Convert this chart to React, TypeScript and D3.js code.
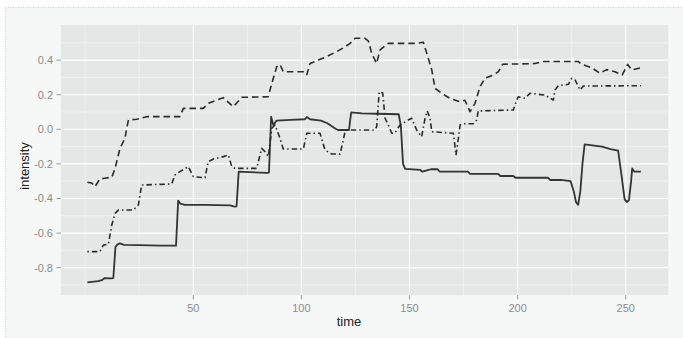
import React from "react";
import * as d3 from "d3";

// ---- data (time, intensity) ----
const solidTime = [1,3,6,8,9,12,13,14,15,16,18,25,35,42,43,44,46,55,67,69,70,71,76,84,85,86,87,88.5,95,101.5,102.5,104,109,112,116,117,122,123,128,135,145,146,147,148,155,156,158,160,163,164,177,178,191,192,198,199,214,215,220,224.5,226,227,228,229,230,231,239,243,246.5,248,249.5,250.5,251.5,252.5,253,254,257];
const solidValue = [-0.885,-0.882,-0.878,-0.87,-0.86,-0.862,-0.86,-0.68,-0.665,-0.66,-0.668,-0.67,-0.672,-0.673,-0.412,-0.43,-0.437,-0.437,-0.44,-0.447,-0.445,-0.245,-0.248,-0.252,-0.25,0.073,0.025,0.05,0.055,0.058,0.071,0.058,0.05,0.035,0.002,-0.004,-0.004,0.098,0.092,0.09,0.087,0.02,-0.2,-0.229,-0.235,-0.245,-0.238,-0.231,-0.231,-0.245,-0.245,-0.258,-0.258,-0.27,-0.27,-0.28,-0.28,-0.293,-0.293,-0.3,-0.36,-0.42,-0.437,-0.36,-0.2,-0.087,-0.1,-0.114,-0.124,-0.26,-0.405,-0.42,-0.41,-0.3,-0.226,-0.245,-0.245];

const dashedTime = [1,3,4.5,6.8,9,12.3,13.8,16.1,18.4,19.2,20,23.8,28.4,43.8,45.4,54.6,56.9,63.9,68.5,72.4,84.6,87,88.6,90.1,91.6,101.7,102.5,104,107.8,111.7,116.3,120.2,122.5,124.8,129.4,131,132.5,134.8,136.3,140.2,153.3,156.4,158,160.3,161.8,164.9,168.7,173.3,175.6,178,180.3,182.6,184.9,188.8,191.1,193,208,212,228,229.6,234.3,238.1,241.2,245,248.4,250.9,252.8,257];
const dashedValue = [-0.306,-0.31,-0.332,-0.287,-0.283,-0.277,-0.226,-0.11,-0.052,0.006,0.054,0.058,0.073,0.073,0.121,0.121,0.15,0.183,0.13,0.185,0.188,0.295,0.362,0.375,0.333,0.333,0.316,0.381,0.4,0.42,0.449,0.477,0.497,0.526,0.526,0.51,0.439,0.381,0.458,0.497,0.497,0.503,0.439,0.343,0.237,0.208,0.179,0.16,0.168,0.102,0.15,0.246,0.295,0.314,0.333,0.376,0.38,0.392,0.392,0.376,0.356,0.324,0.345,0.333,0.314,0.375,0.343,0.355];

const dotdashTime = [1,6.8,8.4,10.7,12.3,13.8,15.3,22.2,24.6,26.1,40,41.5,43.8,47.7,50,55.4,56.9,59.3,63.9,66.2,67.8,69.3,79.3,81.6,83.2,84.7,86.3,87.8,90.1,91.6,100.9,102.5,108.6,110.9,114,117.9,120.2,121,134,134.8,136,137.6,138.7,140.2,141.8,143.3,145.6,149.4,151,153.3,155.6,157.2,158.2,159.5,160.3,170.3,171.5,172.6,173.4,174.9,179.5,181.1,181.8,198,199.6,200.3,203.4,205.7,212.7,216.5,217.3,218.8,223.5,225,226.6,228.9,230.4,257];
const dotdashValue = [-0.707,-0.707,-0.669,-0.665,-0.553,-0.486,-0.467,-0.467,-0.437,-0.322,-0.316,-0.264,-0.245,-0.216,-0.274,-0.28,-0.187,-0.172,-0.158,-0.149,-0.216,-0.226,-0.226,-0.11,-0.13,-0.158,0.006,0.025,-0.052,-0.114,-0.114,-0.023,-0.023,-0.12,-0.143,-0.143,-0.014,-0.004,-0.004,0.015,0.217,0.21,0.064,0.025,-0.023,-0.02,0.025,0.054,0.064,-0.004,-0.043,0.064,0.106,0.064,-0.014,-0.023,-0.149,-0.052,0.025,0.032,0.032,0.054,0.106,0.112,0.169,0.188,0.179,0.208,0.198,0.169,0.227,0.252,0.26,0.295,0.285,0.227,0.25,0.252];

const xTicks = [50, 100, 150, 200, 250];
const xMinor = [0, 25, 75, 125, 175, 225];
const yTicks = [-0.8, -0.6, -0.4, -0.2, 0.0, 0.2, 0.4];
const yMinor = [-0.9, -0.7, -0.5, -0.3, -0.1, 0.1, 0.3, 0.5];

const W = 683, H = 338;
const panel = { left: 61, right: 668.3, top: 25, bottom: 295 };
const font = "'Liberation Sans', Arial, Helvetica, sans-serif";

export default function App() {
  const x = d3.scaleLinear().domain([-11.2, 269.7]).range([panel.left, panel.right]);
  const y = d3.scaleLinear().domain([-0.958, 0.603]).range([panel.bottom, panel.top]);
  const line = d3.line<[number, number]>().x(d => x(d[0])).y(d => y(d[1]));
  const mk = (t: number[], v: number[]) => t.map((tt, i) => [tt, v[i]] as [number, number]);
  const series = [
    { pts: mk(solidTime, solidValue), dash: undefined, w: 1.8, c: "#333" },
    { pts: mk(dashedTime, dashedValue), dash: "6.5,4", w: 1.6, c: "#2a2a2a" },
    { pts: mk(dotdashTime, dotdashValue), dash: "1.5,3,5.5,3", w: 1.6, c: "#2a2a2a" },
  ];
  const pw = panel.right - panel.left, ph = panel.bottom - panel.top;
  return (
    <svg width={W} height={H} style={{ position: "absolute", left: 0, top: 0, fontFamily: font }}>
      <rect x={0} y={0} width={W} height={H} fill="#ffffff" />
      <rect x={5.5} y={7.5} width={W + 10} height={H + 10} fill="#f6f7f7" stroke="#c8c8c8" strokeDasharray="1,1.5" />
      <rect x={panel.left} y={panel.top} width={pw} height={ph} fill="#e5e7e7" />
      <g>
        {xMinor.map(t => (
          <line key={"xm" + t} x1={x(t)} x2={x(t)} y1={panel.top} y2={panel.bottom} stroke="#f1f2f2" strokeWidth={0.8} />
        ))}
        {yMinor.map(v => (
          <line key={"ym" + v} x1={panel.left} x2={panel.right} y1={y(v)} y2={y(v)} stroke="#f1f2f2" strokeWidth={0.8} />
        ))}
        {xTicks.map(t => (
          <line key={"xM" + t} x1={x(t)} x2={x(t)} y1={panel.top} y2={panel.bottom} stroke="#ffffff" strokeWidth={1.1} />
        ))}
        {yTicks.map(v => (
          <line key={"yM" + v} x1={panel.left} x2={panel.right} y1={y(v)} y2={y(v)} stroke="#ffffff" strokeWidth={1.1} />
        ))}
      </g>
      <g fill="none" strokeLinejoin="round">
        {series.map((s, i) => (
          <path key={i} d={line(s.pts) || ""} stroke={s.c} strokeWidth={s.w} strokeDasharray={s.dash} />
        ))}
      </g>
      <g>
        {yTicks.map(v => (
          <g key={"yt" + v}>
            <line x1={panel.left - 4.5} x2={panel.left} y1={y(v)} y2={y(v)} stroke="#9a9a9a" strokeWidth={1} />
            <text x={panel.left - 8} y={y(v)} dy="0.35em" textAnchor="end" fontSize={11} fill="#8c8c8c">
              {v.toFixed(1)}
            </text>
          </g>
        ))}
        {xTicks.map(t => (
          <g key={"xt" + t}>
            <line x1={x(t)} x2={x(t)} y1={panel.bottom} y2={panel.bottom + 4.5} stroke="#9a9a9a" strokeWidth={1} />
            <text x={x(t)} y={panel.bottom + 17} textAnchor="middle" fontSize={11} fill="#8c8c8c">
              {t}
            </text>
          </g>
        ))}
      </g>
      <text x={349} y={326} textAnchor="middle" fontSize={13} fill="#222">time</text>
      <text transform={`translate(29,${(panel.top + panel.bottom) / 2 + 6}) rotate(-90)`} textAnchor="middle" fontSize={13} fill="#222">
        intensity
      </text>
    </svg>
  );
}
